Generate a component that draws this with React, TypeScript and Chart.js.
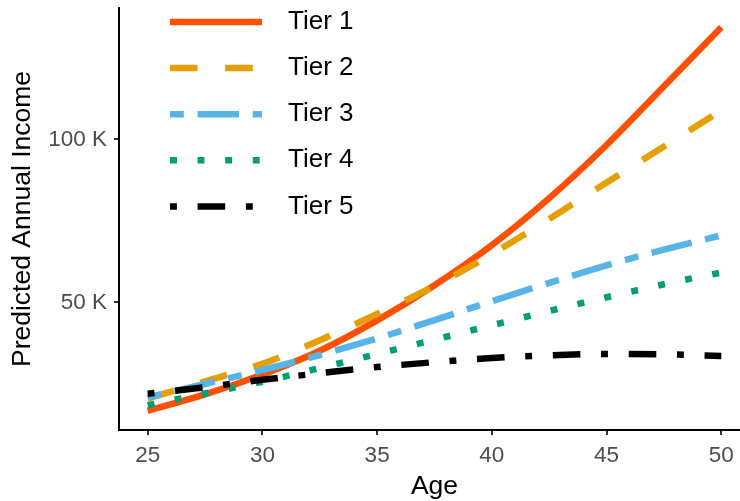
import React, { useEffect, useRef } from "react";
import { Chart, registerables } from "chart.js";

Chart.register(...registerables);

const ages = [25, 27.5, 30, 32.5, 35, 37.5, 40, 42.5, 45, 47.5, 50];
const tier1 = [16.8, 21.8, 27.9, 35.2, 44.5, 55.3, 67.6, 82, 98.3, 116.3, 134.4];
const tier2 = [20.5, 25.8, 31.2, 38.4, 46.5, 55.1, 64.9, 75.6, 86.8, 97.8, 108.9];
const tier3 = [20.9, 25.0, 29.3, 33.9, 39.0, 44.6, 50.4, 56.0, 61.4, 66.2, 70.6];
const tier4 = [18.5, 22.1, 25.7, 29.9, 34.2, 38.6, 43, 47.4, 51.6, 55.6, 59.2];
const tier5 = [22, 24, 26.3, 28.3, 30.2, 31.7, 33.0, 33.8, 34.2, 34.1, 33.6];

const seriesNames = ["Tier 1", "Tier 2", "Tier 3", "Tier 4", "Tier 5"];
const seriesValues = [tier1, tier2, tier3, tier4, tier5];
const seriesColors = ["#FF4F00", "#E69F00", "#56B4E9", "#009E73", "#000000"];

const xTicks = [25, 30, 35, 40, 45, 50];
const yTicks = [50, 100];

const U = 6.9; // dash unit
const dashes: number[][] = [
  [],
  [4 * U, 4 * U],
  [2 * U, 2 * U, 6 * U, 2 * U],
  [1 * U, 3 * U],
  [1 * U, 3 * U, 4 * U, 3 * U],
];
const LW = 6.5;
const FONT = "'Liberation Sans', Arial, sans-serif";

const legendPlugin = {
  id: "insideLegend",
  afterDatasetsDraw(chart: any) {
    const ctx = chart.ctx;
    const top = chart.chartArea.top;
    ctx.save();
    seriesNames.forEach((name, i) => {
      const y = top + 14 + i * 46.1;
      ctx.beginPath();
      ctx.setLineDash(dashes[i]);
      ctx.lineDashOffset = 0;
      ctx.lineCap = "butt";
      ctx.strokeStyle = seriesColors[i];
      ctx.lineWidth = LW;
      ctx.moveTo(170, y);
      ctx.lineTo(262, y);
      ctx.stroke();
      ctx.setLineDash([]);
      ctx.fillStyle = "#000000";
      ctx.font = `26px ${FONT}`;
      ctx.textBaseline = "middle";
      ctx.textAlign = "left";
      ctx.fillText(name, 288, y);
    });
    ctx.restore();
  },
};

export default function App() {
  const ref = useRef<HTMLCanvasElement>(null);
  useEffect(() => {
    if (!ref.current) return;
    const chart = new Chart(ref.current, {
      type: "line",
      data: {
        datasets: seriesNames.map((name, i) => ({
          label: name,
          data: ages.map((a, j) => ({ x: a, y: seriesValues[i][j] })),
          borderColor: seriesColors[i],
          backgroundColor: seriesColors[i],
          borderWidth: LW,
          borderDash: dashes[i],
          borderCapStyle: "butt",
          borderJoinStyle: "round",
          pointRadius: 0,
          pointHoverRadius: 0,
          fill: false,
          cubicInterpolationMode: "monotone",
          order: seriesNames.length - 1 - i,
        })),
      },
      options: {
        animation: false,
        responsive: false,
        maintainAspectRatio: false,
        layout: { padding: { left: 0, right: 2, top: 8, bottom: 0 } },
        plugins: {
          legend: { display: false },
          tooltip: { enabled: false },
        },
        scales: {
          x: {
            type: "linear",
            min: 23.75,
            max: 51.25,
            afterBuildTicks: (axis: any) => {
              axis.ticks = xTicks.map((v) => ({ value: v }));
            },
            afterFit: (s: any) => {
              s.height = 71;
              s.paddingLeft = 0;
              s.paddingRight = 0;
            },
            border: { display: true, color: "#000000", width: 2 },
            grid: {
              display: true,
              drawOnChartArea: false,
              drawTicks: true,
              tickLength: 5,
              color: "#333333",
              lineWidth: 2,
            },
            ticks: {
              color: "#4D4D4D",
              font: { family: FONT, size: 22.5 },
              padding: 7,
              maxRotation: 0,
              autoSkip: false,
              callback: (v: any) => String(v),
            },
            title: {
              display: true,
              text: "Age",
              color: "#000000",
              font: { family: FONT, size: 26.5 },
              padding: { top: 0, bottom: -2 },
            },
          },
          y: {
            type: "linear",
            min: 10.9,
            max: 140.3,
            afterBuildTicks: (axis: any) => {
              axis.ticks = yTicks.map((v) => ({ value: v }));
            },
            afterFit: (s: any) => {
              s.width = 119;
              s.paddingTop = 0;
              s.paddingBottom = 0;
            },
            border: { display: true, color: "#000000", width: 2 },
            grid: {
              display: true,
              drawOnChartArea: false,
              drawTicks: true,
              tickLength: 5,
              color: "#333333",
              lineWidth: 2,
            },
            ticks: {
              color: "#4D4D4D",
              font: { family: FONT, size: 22.5 },
              padding: 7,
              autoSkip: false,
              callback: (v: any) => `${v} K`,
            },
            title: {
              display: true,
              text: "Predicted Annual Income",
              color: "#000000",
              font: { family: FONT, size: 26.5 },
              padding: { top: 7, bottom: 0 },
            },
          },
        },
      },
      plugins: [legendPlugin],
    } as any);
    return () => chart.destroy();
  }, []);

  return (
    <div
      style={{
        position: "fixed",
        left: 0,
        top: 0,
        width: 740,
        height: 501,
        overflow: "hidden",
        background: "#ffffff",
      }}
    >
      <canvas ref={ref} width={752} height={501} style={{ display: "block" }} />
    </div>
  );
}
